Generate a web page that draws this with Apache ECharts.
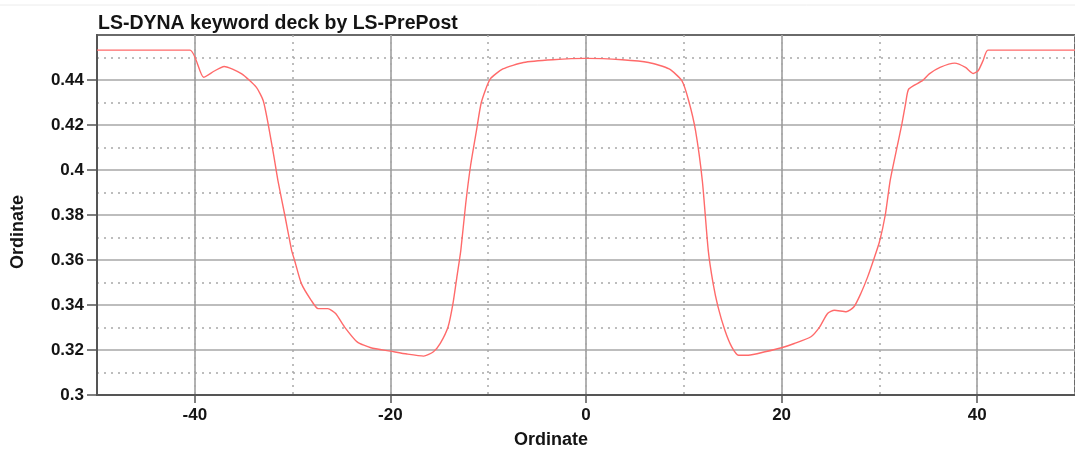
<!DOCTYPE html>
<html>
<head>
<meta charset="utf-8">
<script src="https://cdn.jsdelivr.net/npm/echarts@6/dist/echarts.min.js"></script>
<style>
  html, body { margin: 0; padding: 0; background: #fff; }
  #chart { width: 1075px; height: 455px; }
</style>
</head>
<body>
<div id="chart"></div>
<script>
// Abscissa / ordinate samples of the curve
const xValues = [
  -50, -40.5, -39.1, -38, -37.0, -35.2, -33.7, -33.0, -32.5, -31.9, -31.5, -30.8, -30.1,
  -29.8, -29.1, -28.1, -27.4, -26.4, -25.6, -24.7, -23.4, -22.0, -20.0, -18.3, -16.6,
  -15.6, -14.9, -14.1, -13.6, -13.2, -12.8, -12.3, -11.8, -11.2, -10.7, -9.8, -8.5,
  -6.4, -3.4, 0, 3.7, 6.4, 8.5, 9.8, 10.5, 11.2, 11.9, 12.5, 13.0, 13.5, 14.2, 14.9,
  15.6, 16.6, 18.3, 20.0, 21.3, 23.0, 23.9, 24.7, 25.4, 26.6, 27.4, 28.1, 28.8, 29.4,
  30.0, 30.6, 31.1, 31.8, 32.3, 32.7, 33.0, 34.4, 35.1, 36.2, 37.7, 38.8, 39.6, 40.1,
  40.6, 41.1, 50
];
const yValues = [
  0.4533, 0.4533, 0.4412, 0.4440, 0.4460, 0.4427, 0.4367, 0.4308, 0.4205, 0.4057, 0.3953, 0.3800, 0.3643,
  0.3599, 0.3495, 0.3421, 0.3384, 0.3384, 0.3362, 0.3303, 0.3236, 0.3210, 0.3195, 0.3182, 0.3173,
  0.3192, 0.3229, 0.3303, 0.3407, 0.3525, 0.3643, 0.3850, 0.4020, 0.4175, 0.4301, 0.4404, 0.4449,
  0.4478, 0.4490, 0.4496, 0.4490, 0.4478, 0.4449, 0.4397, 0.4308, 0.4175, 0.3950, 0.3643, 0.3495, 0.3392, 0.3288, 0.3214,
  0.3177, 0.3177, 0.3192, 0.3210, 0.3229, 0.3259, 0.3303, 0.3362, 0.3377, 0.3370, 0.3392, 0.3451, 0.3525, 0.3600,
  0.3680, 0.3800, 0.3953, 0.4101, 0.4205, 0.4301, 0.4360, 0.4397, 0.4427, 0.4456, 0.4475, 0.4456, 0.4429, 0.4441,
  0.4486, 0.4533, 0.4533
];

// Labelled tick values
const xTicks = [-40, -20, 0, 20, 40];
const yTicks = [0.3, 0.32, 0.34, 0.36, 0.38, 0.4, 0.42, 0.44];

const titleText = 'LS-DYNA keyword deck by LS-PrePost';
const xName = 'Ordinate';
const yName = 'Ordinate';

const FONT = '"Liberation Sans", Arial, sans-serif';
const points = xValues.map((x, i) => [x, yValues[i]]);

const chart = echarts.init(document.getElementById('chart'), null, { renderer: 'canvas' });

chart.setOption({
  backgroundColor: '#ffffff',
  animation: false,
  title: {
    text: titleText,
    left: 93,
    top: 9,
    textStyle: { fontFamily: FONT, fontSize: 19.5, fontWeight: 'bold', color: '#141414' }
  },
  graphic: [{
    type: 'line',
    shape: { x1: 0, y1: 5, x2: 1075, y2: 5 },
    style: { stroke: '#ececec', lineWidth: 1 }
  }],
  grid: {
    left: 97, top: 35, right: -7, bottom: 60,
    show: true, borderColor: '#6a6a6a', borderWidth: 2, backgroundColor: 'transparent'
  },
  xAxis: [{
    type: 'value',
    min: -50, max: 50, interval: 10,
    name: xName,
    nameLocation: 'middle',
    nameGap: 36,
    nameTextStyle: { fontFamily: FONT, fontSize: 18, fontWeight: 'bold', color: '#141414', padding: [0, 70, 0, 0] },
    axisLine: { show: true, onZero: false, lineStyle: { color: '#555', width: 2 } },
    axisTick: { show: true, customValues: xTicks, length: 8, lineStyle: { color: '#555', width: 1.5 } },
    axisLabel: { customValues: xTicks, margin: 12, fontFamily: FONT, fontSize: 17, fontWeight: 'bold', color: '#141414' },
    splitLine: { show: true, lineStyle: { color: '#999999', width: 1.5 } }
  }, {
    type: 'value',
    position: 'top',
    min: -50, max: 50, interval: 10,
    axisLine: { show: false },
    axisTick: { show: false },
    axisLabel: { show: false },
    splitLine: { show: true, lineStyle: { color: '#a8a8a8', width: 1.5, type: [2, 5] } }
  }],
  yAxis: {
    type: 'value',
    min: 0.3, max: 0.46, interval: 0.02,
    name: yName,
    nameLocation: 'middle',
    nameGap: 70,
    nameRotate: 90,
    nameTextStyle: { fontFamily: FONT, fontSize: 18, fontWeight: 'bold', color: '#141414', padding: [0, 34, 0, 0] },
    axisLine: { show: true, onZero: false, lineStyle: { color: '#555', width: 2 } },
    axisTick: { show: true, customValues: yTicks, length: 10, lineStyle: { color: '#555', width: 1.5 } },
    axisLabel: { customValues: yTicks, margin: 13, fontFamily: FONT, fontSize: 17, fontWeight: 'bold', color: '#141414' },
    splitLine: { show: true, lineStyle: { color: '#bdbdbd', width: 2 } },
    minorTick: { show: false, splitNumber: 2 },
    minorSplitLine: { show: true, lineStyle: { color: '#a8a8a8', width: 1.5, type: [2, 5] } }
  },
  series: [{
    type: 'line',
    xAxisIndex: 0,
    data: points,
    showSymbol: false,
    smooth: 0.2,
    lineStyle: { color: '#ff6a6a', width: 1.4 },
    z: 5
  }]
});
</script>
</body>
</html>
